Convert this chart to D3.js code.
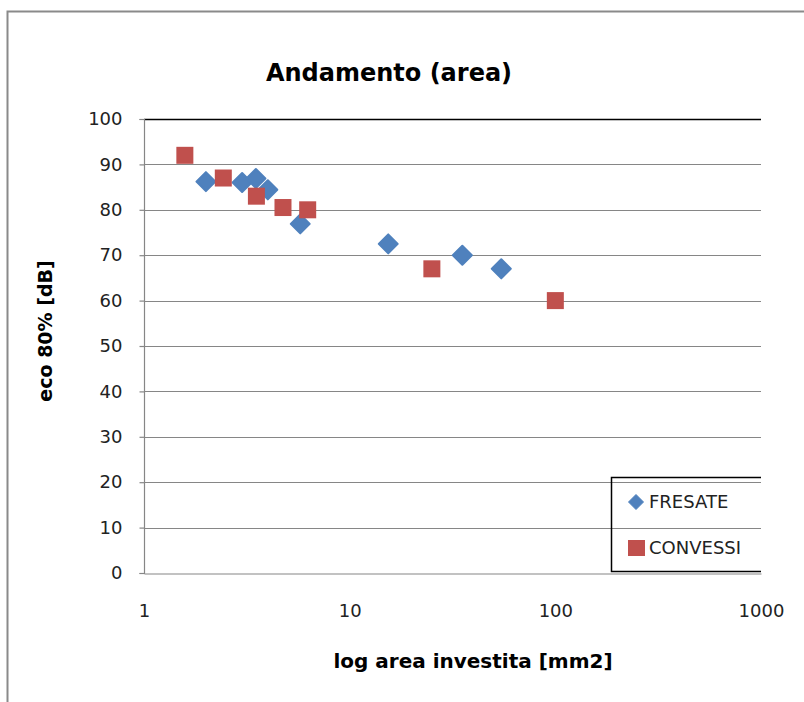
<!DOCTYPE html>
<html>
<head>
<meta charset="utf-8">
<script src="https://cdn.jsdelivr.net/npm/d3@7"></script>
<style>
  html, body { margin: 0; padding: 0; background: #fff; }
  svg { display: block; }
  text { font-family: "DejaVu Sans", "Liberation Sans", sans-serif; }
</style>
</head>
<body>
<svg id="chart" width="804" height="702"></svg>
<script>
// Series: area hit (mm2) vs 80% echo (dB)
const fresateArea = [2, 3, 3.5, 4, 5.75, 15.4, 35.3, 54.6];
const fresateEco  = [86.2, 86, 86.9, 84.4, 76.9, 72.5, 70, 67];
const convessiArea = [1.58, 2.43, 3.52, 4.74, 6.25, 25.1, 100];
const convessiEco  = [92, 87, 83, 80.5, 80, 67, 60];

const xTicks = [1, 10, 100, 1000];
const yTicks = [0, 10, 20, 30, 40, 50, 60, 70, 80, 90, 100];
const seriesNames = ["FRESATE", "CONVESSI"];
const titleText = "Andamento (area)";
const xTitle = "log area investita [mm2]";
const yTitle = "eco 80% [dB]";

const blue = "#4F81BD", red = "#C0504D", grid = "#868686";

const svg = d3.select("#chart");
svg.append("rect").attr("width", 804).attr("height", 702).attr("fill", "#fff");

// outer chart frame (extends past the page at right and bottom)
svg.append("path")
  .attr("d", "M7.5,702 V11.5 H804")
  .attr("fill", "none").attr("stroke", "#8a8a8a").attr("stroke-width", 2);

const plot = { left: 144, right: 761, top: 119, bottom: 573 };

const x = d3.scaleLog().domain([1, 1000]).range([plot.left, plot.right]);
const y = d3.scaleLinear().domain([0, 100]).range([plot.bottom, plot.top]);

// horizontal gridlines
svg.append("g").selectAll("line").data(yTicks.filter(d => d > 0)).join("line")
  .attr("x1", plot.left).attr("x2", plot.right)
  .attr("y1", d => Math.round(y(d)) + 0.5).attr("y2", d => Math.round(y(d)) + 0.5)
  .attr("stroke", d => d === 100 ? "#000" : grid).attr("stroke-width", d => d === 100 ? 1.5 : 1.2);

// y axis
const yAxis = d3.axisLeft(y).tickValues(yTicks).tickSize(5).tickPadding(17).tickFormat(d3.format("d"));
const gy = svg.append("g").attr("transform", `translate(${plot.left + 0.5},0)`).call(yAxis);
gy.select(".domain").attr("stroke", grid).attr("stroke-width", 1.2).attr("d", `M-5,${plot.top + 0.5}H0V${plot.bottom + 0.5}H-5`);
gy.selectAll(".tick line").attr("stroke", grid).attr("stroke-width", 1.2);
gy.selectAll(".tick text").attr("font-size", 18).attr("fill", "#222")
  .attr("font-family", "DejaVu Sans, sans-serif");

// x axis
const xAxis = d3.axisBottom(x).tickValues(xTicks).tickSize(0).tickPadding(31).tickFormat(d3.format("d"));
const gx = svg.append("g").attr("transform", `translate(0,${plot.bottom + 0.5})`).call(xAxis);
gx.select(".domain").attr("stroke", grid).attr("stroke-width", 1.2);
gx.selectAll(".tick text").attr("font-size", 18).attr("fill", "#222")
  .attr("font-family", "DejaVu Sans, sans-serif");

// markers
const diamond = (s) => `M0,${-s}L${s},0L0,${s}L${-s},0Z`;

svg.append("g").selectAll("path").data(fresateArea.map((a, i) => [a, fresateEco[i]])).join("path")
  .attr("transform", d => `translate(${x(d[0])},${y(d[1])})`)
  .attr("d", diamond(9.5))
  .attr("fill", blue).attr("stroke", blue).attr("stroke-width", 2).attr("stroke-linejoin", "round");

const sq = 17;
svg.append("g").selectAll("rect").data(convessiArea.map((a, i) => [a, convessiEco[i]])).join("rect")
  .attr("x", d => x(d[0]) - sq / 2).attr("y", d => y(d[1]) - sq / 2)
  .attr("width", sq).attr("height", sq).attr("fill", red);

// legend
const lg = svg.append("g");
lg.append("path").attr("d", `M${plot.right},477.5 H611.5 V571.5 H${plot.right}`)
  .attr("fill", "none").attr("stroke", "#000").attr("stroke-width", 1.5);
lg.append("path").attr("transform", "translate(636,502)").attr("d", diamond(7.5))
  .attr("fill", blue).attr("stroke", blue).attr("stroke-width", 1).attr("stroke-linejoin", "round");
lg.append("rect").attr("x", 628).attr("y", 540).attr("width", 17).attr("height", 16).attr("fill", red);
lg.selectAll("text").data(seriesNames).join("text")
  .attr("x", 649).attr("y", (d, i) => 502 + i * 46).attr("dy", "0.36em")
  .attr("font-size", 18).attr("fill", "#222").text(d => d);

// titles
svg.append("text").attr("x", 389).attr("y", 72).attr("dy", "0.36em")
  .attr("text-anchor", "middle").attr("font-size", 24).attr("font-weight", "bold").attr("fill", "#000")
  .text(titleText);

svg.append("text").attr("x", 473).attr("y", 661).attr("dy", "0.36em")
  .attr("text-anchor", "middle").attr("font-size", 20).attr("font-weight", "bold").attr("fill", "#000")
  .text(xTitle);

svg.append("text").attr("transform", "translate(45,331) rotate(-90)").attr("dy", "0.36em")
  .attr("text-anchor", "middle").attr("font-size", 19).attr("font-weight", "bold").attr("fill", "#000")
  .text(yTitle);
</script>
</body>
</html>
